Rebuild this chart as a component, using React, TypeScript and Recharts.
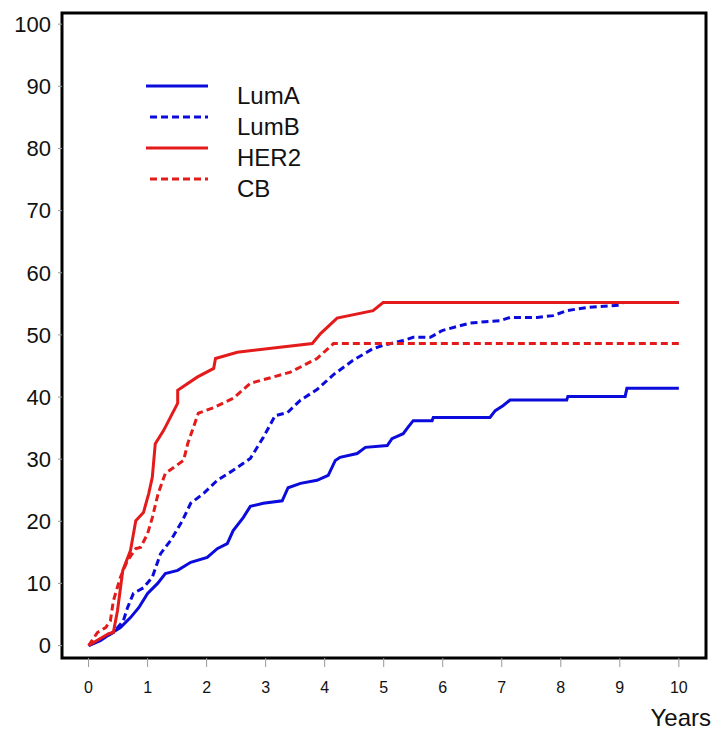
import { LineChart, Line, XAxis, YAxis, ReferenceArea } from 'recharts';

// [years, cumulative %]
const lumA: [number, number][] = [
  [0, 0], [0.2, 0.8], [0.37, 1.9], [0.54, 2.9], [0.71, 4.5], [0.85, 6.1], [1.0, 8.4],
  [1.17, 10.0], [1.3, 11.6], [1.51, 12.1], [1.73, 13.4], [2.01, 14.2], [2.18, 15.6],
  [2.35, 16.4], [2.45, 18.5], [2.62, 20.6], [2.74, 22.4], [2.96, 22.9], [3.28, 23.3],
  [3.38, 25.4], [3.59, 26.1], [3.87, 26.6], [4.06, 27.4], [4.18, 29.8], [4.26, 30.3],
  [4.55, 30.9], [4.69, 31.9], [5.06, 32.2], [5.14, 33.3], [5.33, 34.1], [5.41, 35.1],
  [5.5, 36.2], [5.82, 36.2], [5.84, 36.7], [6.8, 36.7], [6.89, 37.8], [7.02, 38.6],
  [7.14, 39.5], [8.1, 39.5], [8.12, 40.1], [9.09, 40.1], [9.12, 41.4], [10, 41.4],
];

const lumB: [number, number][] = [
  [0, 0], [0.42, 2.1], [0.59, 4.0], [0.66, 6.1], [0.76, 8.4], [0.93, 9.3], [1.08, 11.0],
  [1.22, 14.8], [1.39, 16.9], [1.59, 20.1], [1.73, 22.9], [1.95, 24.5], [2.18, 26.6],
  [2.45, 28.2], [2.74, 30.1], [2.96, 33.5], [3.16, 37.0], [3.37, 37.5], [3.59, 39.5],
  [3.87, 41.2], [4.15, 43.6], [4.48, 45.9], [4.82, 47.8], [4.99, 48.3], [5.33, 49.1],
  [5.5, 49.6], [5.79, 49.6], [5.99, 50.7], [6.46, 51.9], [6.97, 52.3], [7.14, 52.8],
  [7.6, 52.8], [7.87, 53.1], [8.1, 53.9], [8.44, 54.4], [9.0, 54.8], [9.05, 55.2], [10, 55.2],
];

const her2: [number, number][] = [
  [0, 0], [0.34, 1.9], [0.42, 2.1], [0.49, 5.6], [0.58, 12.1], [0.71, 15.3], [0.8, 20.1],
  [0.93, 21.4], [1.02, 24.5], [1.08, 27.1], [1.13, 32.5], [1.27, 34.6], [1.51, 39.0],
  [1.51, 41.1], [1.84, 43.2], [2.12, 44.6], [2.15, 46.2], [2.52, 47.2], [3.79, 48.6],
  [3.93, 50.2], [4.21, 52.7], [4.82, 53.9], [4.99, 55.2], [10, 55.2],
];

const cb: [number, number][] = [
  [0, 0], [0.15, 2.1], [0.29, 2.9], [0.37, 4.0], [0.42, 7.2], [0.54, 11.0], [0.66, 13.7],
  [0.8, 15.6], [0.88, 15.8], [1.0, 18.0], [1.08, 20.6], [1.18, 24.5], [1.3, 27.7],
  [1.61, 29.8], [1.68, 32.5], [1.86, 37.4], [2.12, 38.3], [2.45, 39.8], [2.74, 42.2],
  [3.42, 44.0], [3.87, 46.2], [4.15, 48.6], [10, 48.6],
];

const xTicks = [0, 1, 2, 3, 4, 5, 6, 7, 8, 9, 10];
const yTicks = [0, 10, 20, 30, 40, 50, 60, 70, 80, 90, 100];

const BLUE = '#0b0bdc';
const RED = '#e41b1b';
const FONT = '"Liberation Sans", Arial, Helvetica, sans-serif';

const series = [
  { name: 'LumA', points: lumA, color: BLUE, dash: undefined },
  { name: 'LumB', points: lumB, color: BLUE, dash: '7 4' },
  { name: 'HER2', points: her2, color: RED, dash: undefined },
  { name: 'CB', points: cb, color: RED, dash: '7 4' },
];

const X_DOMAIN: [number, number] = [-0.45, 10.46];
const Y_DOMAIN: [number, number] = [-2, 101.8];

function LegendBox() {
  return (
    <svg width={200} height={140} style={{ position: 'absolute', left: 140, top: 70 }}>
      {series.map((s, i) => {
        const y = 16 + i * 31;
        return (
          <g key={s.name}>
            <line
              x1={s.dash ? 10 : 6}
              x2={68}
              y1={y}
              y2={y}
              stroke={s.color}
              strokeWidth={3}
              strokeDasharray={s.dash}
            />
            <text x={97} y={y + 18} fontSize={24} fontFamily={FONT} fill="#111">
              {s.name}
            </text>
          </g>
        );
      })}
    </svg>
  );
}

export default function App() {
  return (
    <div style={{ position: 'absolute', left: 0, top: 0, width: 715, height: 731, background: '#fff' }}>
      <LineChart width={715} height={731} margin={{ top: 13, right: 9, left: 0, bottom: 33 }}>
        <XAxis
          type="number"
          dataKey="t"
          domain={X_DOMAIN}
          ticks={xTicks}
          allowDataOverflow
          axisLine={false}
          tickLine={{ stroke: '#999', strokeWidth: 1 }}
          tickSize={9}
          tickMargin={15}
          height={40}
          tick={{ fontSize: 16, fill: '#111', fontFamily: FONT }}
        />
        <YAxis
          type="number"
          domain={Y_DOMAIN}
          ticks={yTicks}
          allowDataOverflow
          axisLine={false}
          tickLine={{ stroke: '#999', strokeWidth: 1 }}
          tickSize={4}
          tickMargin={7}
          width={62}
          tick={{ fontSize: 22, fill: '#111', fontFamily: FONT }}
        />
        <ReferenceArea
          x1={X_DOMAIN[0]}
          x2={X_DOMAIN[1]}
          y1={Y_DOMAIN[0]}
          y2={Y_DOMAIN[1]}
          fill="none"
          stroke="#000"
          strokeWidth={3}
        />
        {series.map((s) => (
          <Line
            key={s.name}
            name={s.name}
            data={s.points.map(([t, v]) => ({ t, v }))}
            dataKey="v"
            type="linear"
            stroke={s.color}
            strokeWidth={3}
            strokeDasharray={s.dash}
            dot={false}
            activeDot={false}
            isAnimationActive={false}
          />
        ))}
      </LineChart>
      <LegendBox />
      <div
        style={{
          position: 'absolute',
          right: 4,
          top: 704,
          fontSize: 24,
          fontFamily: FONT,
          color: '#111',
          lineHeight: '27px',
        }}
      >
        Years
      </div>
    </div>
  );
}
